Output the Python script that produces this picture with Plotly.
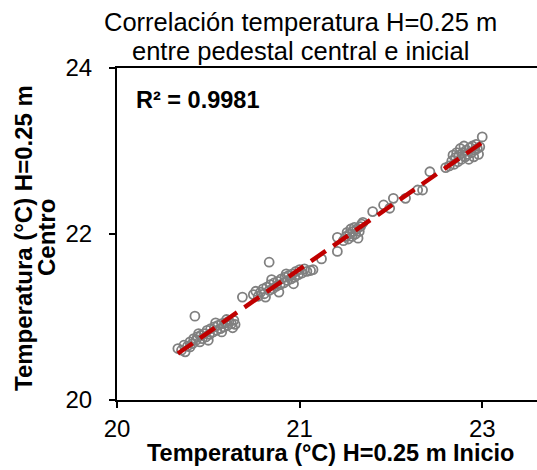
import numpy as np
import plotly.graph_objects as go

# Temperatures at H=0.25 m: initial pedestal (x) vs central pedestal (y), in °C
inicio = [
    20.50, 20.53, 20.56, 20.55, 20.58, 20.60, 20.62, 20.63, 20.65, 20.66,
    20.68, 20.69, 20.70, 20.72, 20.73, 20.74, 20.76, 20.77, 20.79, 20.80,
    20.82, 20.83, 20.85, 20.86, 20.88, 20.89, 20.91, 20.92, 20.94, 20.96,
    20.97, 20.64, 20.60, 20.67, 20.75, 20.81, 20.86, 20.90, 20.95,
    21.03,
    21.12, 21.14, 21.16, 21.18, 21.20, 21.21, 21.23, 21.25, 21.26, 21.28,
    21.29, 21.31, 21.32, 21.34, 21.35, 21.37, 21.38, 21.40, 21.41, 21.43,
    21.44, 21.46, 21.47, 21.49, 21.50, 21.52, 21.54, 21.56, 21.59, 21.61,
    21.22, 21.27, 21.33, 21.39, 21.45, 21.25,
    21.68, 21.81,
    21.81, 21.86, 21.88, 21.90, 21.91, 21.93, 21.94, 21.96, 21.97, 21.99,
    22.00, 21.92, 21.98, 21.89, 22.01, 21.95, 22.02,
    22.10, 22.19, 22.24, 22.27, 22.37, 22.47, 22.51, 22.57, 22.70,
    22.73, 22.75, 22.77, 22.78, 22.80, 22.81, 22.83, 22.84, 22.86, 22.87,
    22.88, 22.90, 22.91, 22.92, 22.94, 22.95, 22.96, 22.97, 22.82, 22.79,
    22.85, 22.89, 22.93, 22.76, 22.98, 23.00,
]
centro = [
    20.62, 20.60, 20.58, 20.66, 20.65, 20.70, 20.68, 20.74, 20.72, 20.76,
    20.70, 20.78, 20.74, 20.80, 20.76, 20.84, 20.79, 20.86, 20.82, 20.88,
    20.84, 20.90, 20.86, 20.92, 20.88, 20.93, 20.90, 20.95, 20.92, 20.96,
    20.91, 21.01, 20.64, 20.80, 20.72, 20.93, 20.82, 20.97, 20.87,
    21.24,
    21.27, 21.31, 21.25, 21.30, 21.34, 21.28, 21.36, 21.32, 21.39, 21.34,
    21.41, 21.37, 21.43, 21.39, 21.46, 21.41, 21.48, 21.44, 21.50, 21.46,
    21.52, 21.48, 21.55, 21.51, 21.57, 21.53, 21.58, 21.55, 21.56, 21.57,
    21.24, 21.45, 21.30, 21.52, 21.40, 21.66,
    21.70, 21.79,
    21.96, 21.92, 21.97, 21.94, 22.00, 21.97, 22.03, 22.00, 22.06, 22.03,
    22.09, 22.06, 21.95, 22.02, 22.12, 22.08, 22.14,
    22.27, 22.35, 22.31, 22.43, 22.43, 22.53, 22.53, 22.75, 22.80,
    22.82, 22.88, 22.84, 22.92, 22.87, 22.95, 22.90, 22.98, 22.93, 23.01,
    22.96, 23.04, 22.98, 23.06, 23.01, 23.08, 23.03, 22.96, 23.03, 22.98,
    23.06, 22.90, 22.93, 22.95, 23.05, 23.17,
]

x_tickvals = [20, 21.5, 23]
x_ticktext = ["20", "21", "23"]
y_tickvals = [20, 22, 24]

title_lines = ["Correlación temperatura H=0.25 m", "entre pedestal central e inicial"]
x_title = "Temperatura (°C) H=0.25 m Inicio"
y_title_lines = ["Temperatura (°C) H=0.25 m", "Centro"]
r2_label = "R² = 0.9981"

# Least-squares trend line over the observed range
xa = np.array(inicio)
ya = np.array(centro)
slope, intercept = np.polyfit(xa, ya, 1)
x_fit = np.array([xa.min(), xa.max()])
y_fit = slope * x_fit + intercept

FONT = "Arial, Liberation Sans, sans-serif"
L, T, B, W = 117, 68, 70, 537
PW = W - L

fig = go.Figure()
fig.add_trace(go.Scatter(
    x=inicio, y=centro, mode="markers",
    marker=dict(symbol="circle-open", size=9, color="#808080",
                line=dict(width=1.8, color="#808080")),
    showlegend=False, hoverinfo="x+y",
))
fig.add_trace(go.Scatter(
    x=x_fit, y=y_fit, mode="lines",
    line=dict(color="#c00000", width=4.5, dash="18px,9px"),
    showlegend=False, hoverinfo="skip",
))

annotations = [
    dict(text=title_lines[0], xref="paper", yref="paper", x=(300 - L) / PW, y=1,
         xanchor="center", yanchor="middle", yshift=46, showarrow=False,
         font=dict(size=25.5, family=FONT, color="black")),
    dict(text=title_lines[1], xref="paper", yref="paper", x=(300 - L) / PW, y=1,
         xanchor="center", yanchor="middle", yshift=17, showarrow=False,
         font=dict(size=25.5, family=FONT, color="black")),
    dict(text="<b>" + x_title + "</b>", xref="paper", yref="paper",
         x=(330 - L) / PW, y=0, xanchor="center", yanchor="middle",
         yshift=-53, showarrow=False,
         font=dict(size=23.5, family=FONT, color="black")),
    dict(text="<b>" + y_title_lines[0] + "</b>", xref="paper", yref="paper",
         x=0, y=0.5, xshift=-94, yshift=-4, xanchor="center", yanchor="middle",
         textangle=-90, showarrow=False,
         font=dict(size=24, family=FONT, color="black")),
    dict(text="<b>" + y_title_lines[1] + "</b>", xref="paper", yref="paper",
         x=0, y=0.5, xshift=-71, yshift=-4, xanchor="center", yanchor="middle",
         textangle=-90, showarrow=False,
         font=dict(size=24, family=FONT, color="black")),
    dict(text="<b>" + r2_label + "</b>", xref="paper", yref="paper",
         x=0, y=1, xshift=17, yshift=-32, xanchor="left", yanchor="middle",
         showarrow=False, font=dict(size=23.5, family=FONT, color="black")),
]

fig.update_layout(
    width=W, height=470,
    margin=dict(l=L, r=0, t=T, b=B),
    paper_bgcolor="white", plot_bgcolor="white",
    font=dict(family=FONT, color="black"),
    xaxis=dict(
        range=[20, 23.45], tickvals=x_tickvals, ticktext=x_ticktext,
        showgrid=False, zeroline=False,
        showline=True, linecolor="black", linewidth=2, mirror=True,
        ticks="outside", ticklen=6, tickwidth=1.5, tickcolor="black",
        tickfont=dict(size=24, family=FONT, color="black"),
    ),
    yaxis=dict(
        range=[20, 24], tickvals=y_tickvals,
        showgrid=False, zeroline=False,
        showline=True, linecolor="black", linewidth=2, mirror=False,
        ticks="outside", ticklen=6, tickwidth=1.5, tickcolor="black",
        tickfont=dict(size=24, family=FONT, color="black"),
        ticklabelstandoff=12,
    ),
    annotations=annotations,
)

fig.write_html("out.html")
